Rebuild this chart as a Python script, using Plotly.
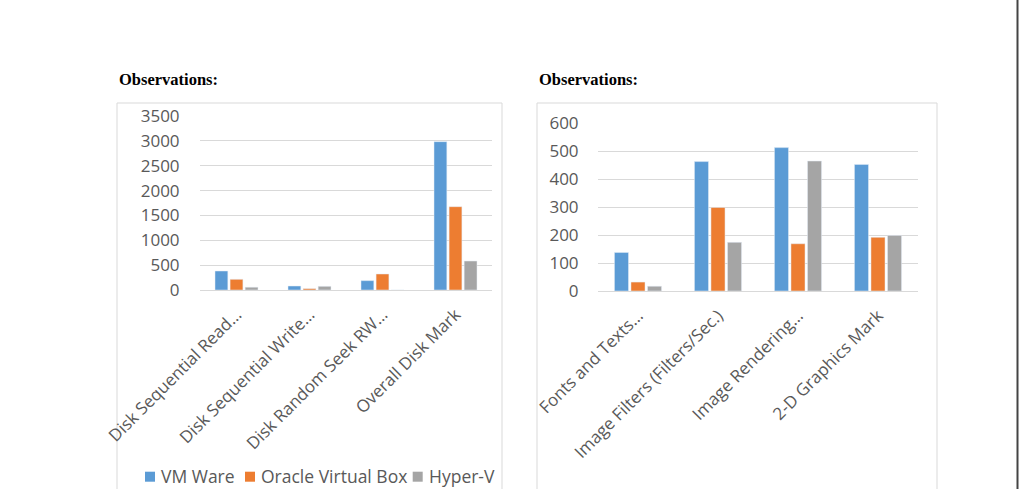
import plotly.graph_objects as go

# ---- data ----
disk_categories = ["Disk Sequential Read…", "Disk Sequential Write…", "Disk Random Seek RW…", "Overall Disk Mark"]
disk_vmware = [382, 80, 188, 2984]
disk_vbox = [215, 27, 322, 1676]
disk_hyperv = [56, 74, 0, 583]

gfx_categories = ["Fonts and Texts…", "Image Filters (Filters/Sec.)", "Image Rendering…", "2-D Graphics Mark"]
gfx_vmware = [138, 463, 513, 453]
gfx_vbox = [32, 299, 169, 192]
gfx_hyperv = [17, 174, 465, 199]

series_names = ["VM Ware", "Oracle Virtual Box", "Hyper-V"]
colors = ["#5B9BD5", "#ED7D31", "#A5A5A5"]

W, H = 1019, 489
def px(x):
    return x / W
def py(y):
    return 1 - y / H

fig = go.Figure()
for name, vals, c in zip(series_names, [disk_vmware, disk_vbox, disk_hyperv], colors):
    fig.add_trace(go.Bar(x=disk_categories, y=vals, name=name, marker_color=c,
                         xaxis="x", yaxis="y", showlegend=False))
for name, vals, c in zip(series_names, [gfx_vmware, gfx_vbox, gfx_hyperv], colors):
    fig.add_trace(go.Bar(x=gfx_categories, y=vals, name=name, marker_color=c,
                         xaxis="x2", yaxis="y2", showlegend=False))

tick_font = dict(family="Open Sans", size=17, color="#595959")
cat_font = dict(family="Open Sans", size=17, color="#595959")
grid = "#D9D9D9"

shapes = [
    dict(type="rect", xref="paper", yref="paper", x0=px(117), x1=px(502), y0=py(520), y1=py(103),
         line=dict(color="#D9D9D9", width=1), fillcolor="rgba(0,0,0,0)", layer="below"),
    dict(type="rect", xref="paper", yref="paper", x0=px(537), x1=px(937), y0=py(520), y1=py(103),
         line=dict(color="#D9D9D9", width=1), fillcolor="rgba(0,0,0,0)", layer="below"),
    dict(type="line", xref="paper", yref="paper", x0=px(1017.5), x1=px(1017.5), y0=0, y1=1,
         line=dict(color="#444444", width=2)),
]
annotations = [
    dict(text="<b>Observations:</b>", xref="paper", yref="paper", x=px(117), y=py(80),
         xanchor="left", yanchor="middle", showarrow=False,
         font=dict(family="Liberation Serif", size=16.5, color="black")),
    dict(text="<b>Observations:</b>", xref="paper", yref="paper", x=px(537), y=py(80),
         xanchor="left", yanchor="middle", showarrow=False,
         font=dict(family="Liberation Serif", size=16.5, color="black")),
]

# legend (drawn as swatches + text, matching the compact layout of the original)
legend_sq_x = [145, 245, 412.7]
legend_y = 476.7
for name, c, sx in zip(series_names, colors, legend_sq_x):
    shapes.append(dict(type="rect", xref="paper", yref="paper",
                       x0=px(sx), x1=px(sx + 10), y0=py(legend_y + 5), y1=py(legend_y - 5),
                       line=dict(width=0), fillcolor=c))
    annotations.append(dict(text=name, xref="paper", yref="paper", x=px(sx + 14), y=py(legend_y - 0.5),
                            xanchor="left", yanchor="middle", showarrow=False,
                            font=dict(family="Open Sans", size=17.5, color="#595959")))

fig.update_layout(
    width=W, height=H,
    margin=dict(l=0, r=0, t=0, b=0, autoexpand=False),
    paper_bgcolor="white", plot_bgcolor="white",
    barmode="group", bargap=0.38, bargroupgap=0.15,
    showlegend=False,
    xaxis=dict(domain=[px(200), px(492)], anchor="y", tickangle=-45, tickfont=cat_font,
               showline=False, showgrid=False, ticks="outside", ticklen=7,
               tickcolor="rgba(0,0,0,0)", automargin=False),
    yaxis=dict(domain=[py(290), py(116)], anchor="x", range=[0, 3500], dtick=500,
               tickfont=tick_font, showgrid=True, gridcolor=grid, gridwidth=1,
               zeroline=True, zerolinecolor=grid, zerolinewidth=1, showline=False,
               ticks="outside", ticklen=16, tickcolor="rgba(0,0,0,0)", automargin=False),
    xaxis2=dict(domain=[px(598), px(918)], anchor="y2", tickangle=-45, tickfont=cat_font,
                showline=False, showgrid=False, ticks="outside", ticklen=7,
                tickcolor="rgba(0,0,0,0)", automargin=False),
    yaxis2=dict(domain=[py(291), py(123.3)], anchor="x2", range=[0, 600], dtick=100,
                tickfont=tick_font, showgrid=True, gridcolor=grid, gridwidth=1,
                zeroline=True, zerolinecolor=grid, zerolinewidth=1, showline=False,
                ticks="outside", ticklen=15, tickcolor="rgba(0,0,0,0)", automargin=False),
    shapes=shapes,
    annotations=annotations,
)

fig.write_html("out.html")
